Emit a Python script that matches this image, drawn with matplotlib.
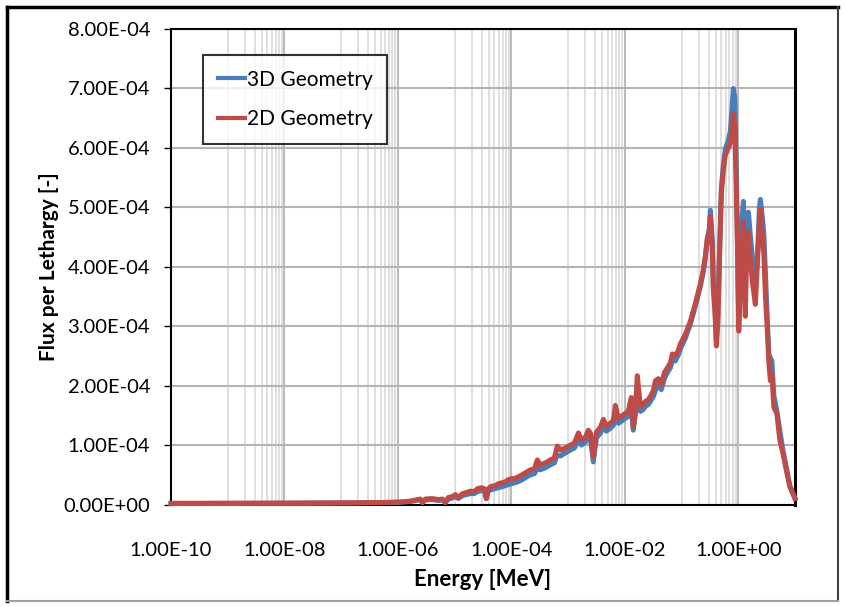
import numpy as np
import matplotlib
matplotlib.use("Agg")
import matplotlib.pyplot as plt
from matplotlib.lines import Line2D
from matplotlib.ticker import FixedLocator, FuncFormatter, NullFormatter

plt.rcParams['font.family'] = ['Lato', 'DejaVu Sans']

# ---- data ----
energy_mev = [
    1.0e-10, 1.11e-9, 1.27e-8, 9.65e-8, 4.90e-7, 1.10e-6, 1.66e-6, 2.03e-6, 2.48e-6, 2.70e-6,
    3.05e-6, 4.04e-6, 5.16e-6, 6.07e-6, 6.86e-6, 7.74e-6, 9.11e-6, 1.03e-5, 1.16e-5, 1.37e-5,
    1.61e-5, 1.89e-5, 2.22e-5, 2.51e-5, 2.96e-5, 3.34e-5, 3.62e-5, 3.93e-5, 4.44e-5, 5.22e-5,
    5.90e-5, 6.93e-5, 7.83e-5, 8.85e-5, 1.00e-4, 1.18e-4, 1.44e-4, 1.76e-4, 2.16e-4, 2.54e-4,
    2.87e-4, 3.24e-4, 3.97e-4, 4.87e-4, 5.72e-4, 6.46e-4, 7.31e-4, 8.95e-4, 1.10e-3, 1.29e-3,
    1.52e-3, 1.71e-3, 2.01e-3, 2.28e-3, 2.47e-3, 2.79e-3, 3.15e-3, 3.71e-3, 4.18e-3, 4.73e-3,
    5.56e-3, 6.28e-3, 6.81e-3, 7.69e-3, 8.69e-3, 1.02e-2, 1.15e-2, 1.30e-2, 1.41e-2, 1.53e-2,
    1.66e-2, 1.88e-2, 2.12e-2, 2.30e-2, 2.60e-2, 2.82e-2, 3.19e-2, 3.46e-2, 3.90e-2, 4.41e-2,
    4.98e-2, 5.62e-2, 6.35e-2, 6.89e-2, 7.78e-2, 8.79e-2, 9.53e-2, 0.117, 0.143, 0.175,
    0.215, 0.242, 0.263, 0.285, 0.309, 0.322, 0.350, 0.364, 0.387, 0.411,
    0.437, 0.464, 0.504, 0.546, 0.592, 0.669, 0.726, 0.787, 0.820, 0.871,
    0.926, 0.964, 1.02, 1.09, 1.16, 1.23, 1.28, 1.33, 1.42, 1.51,
    1.63, 1.77, 2.00, 2.17, 2.36, 2.45, 2.66, 2.83, 3.00, 3.26,
    3.46, 3.68, 3.91, 4.24, 4.78, 5.40, 6.11, 7.18, 8.11, 10.0,
]

# flux per lethargy in units of 1e-4
flux_3d_e4 = [
    0.017, 0.017, 0.020, 0.025, 0.030, 0.037, 0.050, 0.067, 0.083, 0.033,
    0.075, 0.083, 0.067, 0.075, 0.033, 0.092, 0.108, 0.133, 0.100, 0.150,
    0.167, 0.183, 0.183, 0.217, 0.233, 0.225, 0.100, 0.225, 0.250, 0.267,
    0.283, 0.300, 0.317, 0.333, 0.350, 0.367, 0.400, 0.450, 0.500, 0.517,
    0.617, 0.583, 0.617, 0.667, 0.700, 0.833, 0.817, 0.867, 0.917, 0.950,
    1.083, 1.000, 1.050, 1.133, 1.117, 0.717, 1.117, 1.200, 1.300, 1.233,
    1.283, 1.333, 1.500, 1.367, 1.400, 1.450, 1.483, 1.617, 1.250, 1.500,
    1.883, 1.567, 1.600, 1.650, 1.683, 1.733, 1.817, 1.917, 2.000, 1.933,
    2.117, 2.217, 2.300, 2.417, 2.417, 2.517, 2.617, 2.800, 3.033, 3.333,
    3.667, 3.917, 4.150, 4.467, 4.650, 4.950, 4.417, 3.667, 3.417, 2.750,
    3.250, 4.167, 5.333, 5.717, 5.983, 6.133, 6.283, 6.750, 7.000, 6.833,
    5.583, 4.500, 3.117, 3.917, 4.750, 5.100, 4.667, 3.750, 4.833, 4.917,
    4.533, 4.167, 3.583, 4.167, 5.000, 5.133, 4.833, 4.533, 3.917, 3.083,
    2.533, 2.467, 2.417, 1.833, 1.583, 1.250, 0.917, 0.583, 0.317, 0.100,
]

flux_2d_e4 = [
    0.020, 0.022, 0.025, 0.028, 0.033, 0.042, 0.058, 0.075, 0.092, 0.033,
    0.092, 0.100, 0.083, 0.092, 0.033, 0.117, 0.133, 0.167, 0.117, 0.183,
    0.200, 0.225, 0.217, 0.267, 0.283, 0.267, 0.100, 0.267, 0.308, 0.317,
    0.350, 0.367, 0.383, 0.417, 0.433, 0.442, 0.483, 0.533, 0.583, 0.600,
    0.750, 0.667, 0.700, 0.750, 0.783, 0.983, 0.917, 0.950, 1.000, 1.033,
    1.205, 1.083, 1.133, 1.250, 1.200, 0.800, 1.217, 1.300, 1.433, 1.317,
    1.367, 1.417, 1.667, 1.450, 1.483, 1.533, 1.567, 1.800, 1.300, 1.583,
    2.167, 1.650, 1.683, 1.733, 1.767, 1.817, 1.917, 2.083, 2.117, 2.017,
    2.217, 2.300, 2.383, 2.533, 2.500, 2.600, 2.700, 2.867, 3.083, 3.383,
    3.717, 3.950, 4.183, 4.483, 4.583, 4.850, 4.250, 3.583, 3.250, 2.667,
    3.083, 4.050, 5.250, 5.617, 5.883, 6.000, 6.083, 6.333, 6.583, 6.333,
    5.250, 4.417, 2.917, 3.583, 4.250, 4.750, 4.083, 3.167, 4.417, 4.583,
    4.133, 3.750, 3.367, 4.050, 4.750, 4.967, 4.500, 4.200, 3.533, 2.917,
    2.383, 2.083, 2.217, 1.633, 1.533, 1.083, 0.867, 0.533, 0.300, 0.100,
]

series_labels = ["3D Geometry", "2D Geometry"]
x_major_ticks = [1e-10, 1e-8, 1e-6, 1e-4, 1e-2, 1e0]
y_ticks = [0, 1e-4, 2e-4, 3e-4, 4e-4, 5e-4, 6e-4, 7e-4, 8e-4]
x_label = "Energy [MeV]"
y_label = "Flux per Lethargy [-]"

# ---- figure ----
W, H = 844, 606
fig = plt.figure(figsize=(W / 100, H / 100), dpi=100)
ax = fig.add_axes([171 / W, 1 - 504.5 / H, (795 - 171) / W, (504.5 - 29) / H])

e = np.array(energy_mev)
f3 = np.array(flux_3d_e4) * 1e-4
f2 = np.array(flux_2d_e4) * 1e-4

ax.plot(e, f3, color="#4a7ebb", lw=3.6, label=series_labels[0], clip_on=False,
        solid_joinstyle="round", zorder=3)
ax.plot(e, f2, color="#be4b48", lw=3.6, label=series_labels[1], clip_on=False,
        solid_joinstyle="round", zorder=4)

ax.set_xscale("log")
ax.set_xlim(1e-10, 10)
ax.set_ylim(0, 8e-4)

# gridlines like the Excel chart
minor_locs = [n * 10.0 ** k for k in (-9, -7, -5, -3, -1) for n in range(1, 10)]
ax.xaxis.set_major_locator(FixedLocator(x_major_ticks))
ax.xaxis.set_minor_locator(FixedLocator(minor_locs))
ax.xaxis.set_minor_formatter(NullFormatter())
ax.yaxis.set_major_locator(FixedLocator(y_ticks))
ax.grid(which="major", axis="x", color="#a8a8a8", lw=1.1)
ax.grid(which="minor", axis="x", color="#d6d6d6", lw=1.1)
ax.grid(which="major", axis="y", color="#b4b4b4", lw=1.5)
ax.set_axisbelow(True)

fmt = FuncFormatter(lambda v, p: f"{v:.2E}")
ax.xaxis.set_major_formatter(fmt)
ax.yaxis.set_major_formatter(fmt)
ax.tick_params(axis="x", which="both", length=0, pad=27, labelsize=14.5)
ax.tick_params(axis="y", which="major", length=5, width=1, direction="out", pad=10, labelsize=14.5)

for s in ax.spines.values():
    s.set_color("black")
    s.set_linewidth(1.5)
ax.spines["right"].set_linewidth(2.2)

ax.set_xlabel(x_label, fontsize=16, fontweight="bold", labelpad=7)
ax.set_ylabel(y_label, fontsize=15, fontweight="bold", labelpad=3)

leg = ax.legend(loc="upper left", bbox_to_anchor=((203 - 171) / 624, 1 - (55 - 29) / 475.5),
                fontsize=15, frameon=True, fancybox=False, shadow=False,
                handlelength=1.3, handletextpad=0.1, labelspacing=0.95,
                borderpad=0.7, borderaxespad=0)
leg.get_frame().set_edgecolor("black")
leg.get_frame().set_linewidth(1.5)
for ln in leg.get_lines():
    ln.set_linewidth(3.0)

# outer chart border
fig.add_artist(Line2D([7 / W, 7 / W], [1 - 7 / H, 1 - 601 / H], color="black", lw=2.5))
fig.add_artist(Line2D([7 / W, 838 / W], [1 - 7 / H, 1 - 7 / H], color="black", lw=2.5))
fig.add_artist(Line2D([838 / W, 838 / W], [1 - 7 / H, 1 - 601 / H], color="#404040", lw=1.5))
fig.add_artist(Line2D([7 / W, 838 / W], [1 - 601 / H, 1 - 601 / H], color="#a0a0a0", lw=1.5))

fig.savefig("out.png", dpi=100)
